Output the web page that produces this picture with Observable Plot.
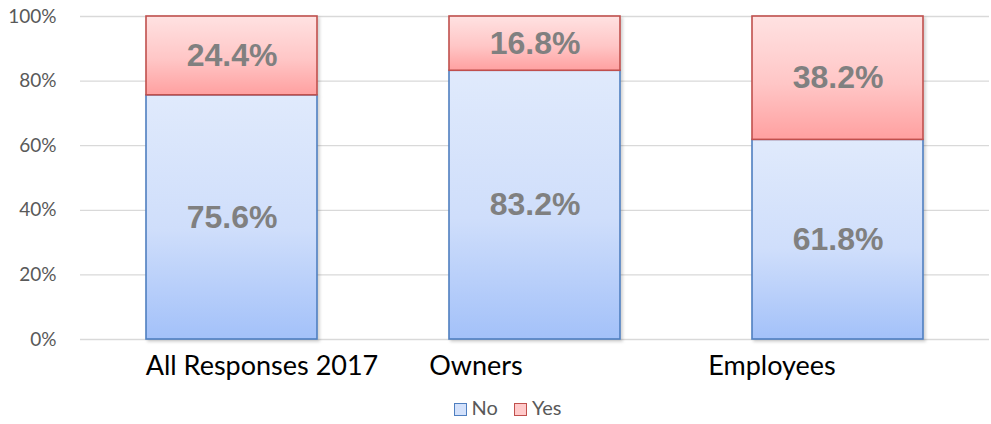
<!DOCTYPE html>
<html><head><meta charset="utf-8">
<script src="https://cdn.jsdelivr.net/npm/d3@7"></script>
<script src="https://cdn.jsdelivr.net/npm/@observablehq/plot@0.6"></script>
<style>
body{margin:0;background:#fff;}
#legend{display:flex;justify-content:center;gap:16px;font:20px Lato, "Open Sans", sans-serif;color:#595959;height:34px;align-items:center;padding-left:24px;}
.sw{display:inline-block;width:13px;height:13px;margin-right:5px;vertical-align:-1px;box-sizing:border-box;}
</style></head>
<body>
<div id="chart"></div>
<div id="legend"></div>
<script>
const categories = ["All Responses 2017", "Owners", "Employees"];
const noValues = [75.6, 83.2, 61.8];
const yesValues = [24.4, 16.8, 38.2];
const yTicks = [0, 20, 40, 60, 80, 100];
const seriesNames = ["No", "Yes"];
const labelShift = [30, -59, -66];

const data = [];
categories.forEach((c, i) => {
  data.push({cat: c, series: "No", value: noValues[i]});
  data.push({cat: c, series: "Yes", value: yesValues[i]});
});

const fills = {No: "url(#gNo)", Yes: "url(#gYes)"};
const strokes = {No: "#4f7fc0", Yes: "#c0504d"};

const defs = () => {
  const s = d3.create("svg:g");
  const d = s.append("defs");
  const g1 = d.append("linearGradient").attr("id", "gNo").attr("x1", 0).attr("y1", 0).attr("x2", 0).attr("y2", 1);
  g1.append("stop").attr("offset", "0%").attr("stop-color", "#e0eafc");
  g1.append("stop").attr("offset", "55%").attr("stop-color", "#cfdefb");
  g1.append("stop").attr("offset", "100%").attr("stop-color", "#a3c1f9");
  const g2 = d.append("linearGradient").attr("id", "gYes").attr("x1", 0).attr("y1", 0).attr("x2", 0).attr("y2", 1);
  g2.append("stop").attr("offset", "0%").attr("stop-color", "#ffe2e2");
  g2.append("stop").attr("offset", "55%").attr("stop-color", "#ffc6c6");
  g2.append("stop").attr("offset", "100%").attr("stop-color", "#ffa0a0");
  const f = d.append("filter").attr("id", "sh").attr("x", "-10%").attr("y", "-10%").attr("width", "130%").attr("height", "130%");
  f.append("feDropShadow").attr("dx", 2).attr("dy", 2).attr("stdDeviation", 1.5).attr("flood-color", "#000").attr("flood-opacity", 0.18);
  return s.node();
};

const labelMarks = categories.map((c, i) =>
  Plot.text([c], {x: d => d, frameAnchor: "bottom", dy: 35, dx: labelShift[i],
    fontSize: 27, fill: "#000", fontFamily: "Lato, 'Open Sans', sans-serif"}));

const chart = Plot.plot({
  width: 991,
  height: 390,
  marginTop: 16,
  marginBottom: 51,
  marginLeft: 80,
  marginRight: 2,
  x: {domain: categories, paddingInner: 0.435, paddingOuter: 0.2175, axis: null},
  y: {domain: [0, 100], ticks: yTicks, tickFormat: d => d + "%", label: null},
  style: {fontFamily: "Lato, 'Open Sans', sans-serif", overflow: "visible"},
  marks: [
    defs,
    Plot.gridY(yTicks, {stroke: "#d9d9d9", strokeOpacity: 1, strokeWidth: 1.3}),
    Plot.axisY({ticks: yTicks, tickSize: 0, tickPadding: 24, fontSize: 19, fill: "#595959", tickFormat: d => d + "%", label: null}),
    Plot.barY(data, Plot.stackY({x: "cat", y: "value", fill: d => fills[d.series], stroke: d => strokes[d.series], strokeWidth: 1.6})),
    Plot.text(data, Plot.stackY({x: "cat", y: "value", text: d => d.value.toFixed(1) + "%", fill: "#808080", fontSize: 32, fontWeight: "bold", fontFamily: "'Liberation Sans', Arial, sans-serif"})),
    ...labelMarks
  ]
});
document.getElementById("chart").append(chart);
chart.querySelectorAll("g[aria-label='bar']").forEach(g => g.setAttribute("filter", "url(#sh)"));

const lg = document.getElementById("legend");
const legFill = {No: "#d3e1fb", Yes: "#ffcaca"};
seriesNames.forEach(n => {
  const sp = document.createElement("span");
  sp.innerHTML = `<span class="sw" style="background:${legFill[n]};border:1.5px solid ${strokes[n]}"></span>${n}`;
  lg.append(sp);
});
</script>
</body></html>
